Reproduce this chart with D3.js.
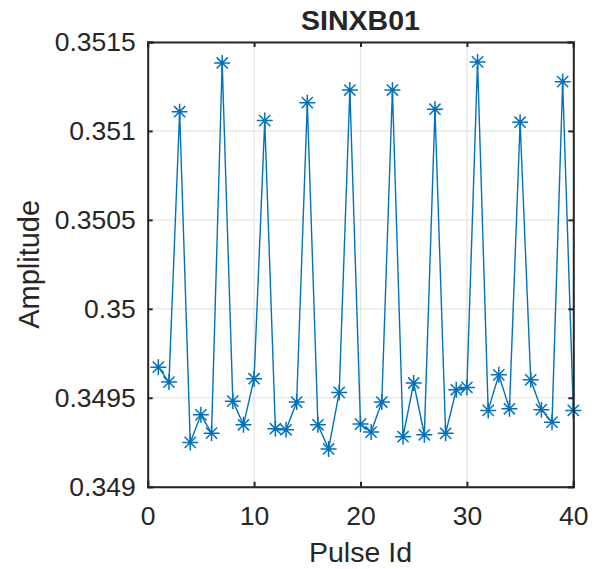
<!DOCTYPE html>
<html>
<head>
<meta charset="utf-8">
<script src="https://cdn.jsdelivr.net/npm/d3@7"></script>
<style>
  html, body { margin: 0; padding: 0; background: #fff; }
  svg { display: block; }
  text { font-family: "Liberation Sans", Arial, Helvetica, sans-serif; fill: #262626; }
</style>
</head>
<body>
<svg id="chart" width="605" height="569"></svg>
<script>
// Pulse identifiers and measured amplitudes for channel SINXB01
const pulseIds = d3.range(1, 41);
const amplitudes = [
  0.349672, 0.349588, 0.351108, 0.349249, 0.349404, 0.349301, 0.351382, 0.349481,
  0.349348, 0.349607, 0.351058, 0.349326, 0.349320, 0.349476, 0.351159, 0.349348,
  0.349212, 0.349530, 0.351230, 0.349352, 0.349307, 0.349476, 0.351230, 0.349281,
  0.349583, 0.349292, 0.351122, 0.349300, 0.349545, 0.349558, 0.351388, 0.349429,
  0.349629, 0.349438, 0.351049, 0.349601, 0.349433, 0.349363, 0.351277, 0.349429
];
const xTicks = [0, 10, 20, 30, 40];
const yTicks = [0.349, 0.3495, 0.35, 0.3505, 0.351, 0.3515];
const yTickLabels = ["0.349", "0.3495", "0.35", "0.3505", "0.351", "0.3515"];
const title = "SINXB01";
const xLabel = "Pulse Id";
const yLabel = "Amplitude";

const svg = d3.select("#chart");
const box = { left: 147.7, right: 573.3, top: 42, bottom: 486.7 };

const x = d3.scaleLinear().domain([0, 40]).range([box.left, box.right]);
const y = d3.scaleLinear().domain([0.349, 0.3515]).range([box.bottom, box.top]);

const axisColor = "#262626";
const gridColor = "#e3e3e3";
const lineColor = "#0072BD";
const tickLen = 5;

// grid
const grid = svg.append("g");
grid.selectAll("line.gx").data(xTicks).join("line")
  .attr("x1", d => x(d)).attr("x2", d => x(d))
  .attr("y1", box.top).attr("y2", box.bottom)
  .attr("stroke", gridColor).attr("stroke-width", 1.2);
grid.selectAll("line.gy").data(yTicks).join("line")
  .attr("x1", box.left).attr("x2", box.right)
  .attr("y1", d => y(d)).attr("y2", d => y(d))
  .attr("stroke", gridColor).attr("stroke-width", 1.2);

// data line
const data = pulseIds.map((p, i) => ({ p, v: amplitudes[i] }));
svg.append("path")
  .datum(data)
  .attr("fill", "none")
  .attr("stroke", lineColor)
  .attr("stroke-width", 1.4)
  .attr("d", d3.line().x(d => x(d.p)).y(d => y(d.v)));

// asterisk markers
const r = 8, rd = 5.6;
const star = `M${-r},0L${r},0M0,${-r}L0,${r}M${-rd},${-rd}L${rd},${rd}M${-rd},${rd}L${rd},${-rd}`;
svg.append("g").selectAll("path").data(data).join("path")
  .attr("transform", d => `translate(${x(d.p)},${y(d.v)})`)
  .attr("d", star)
  .attr("fill", "none")
  .attr("stroke", lineColor)
  .attr("stroke-width", 1.5);

// axes with inward ticks (MATLAB box style)
const xAxisB = d3.axisBottom(x).tickValues(xTicks).tickSize(-tickLen).tickPadding(19).tickFormat(d3.format("d"));
const xAxisT = d3.axisTop(x).tickValues(xTicks).tickSize(-tickLen).tickFormat("");
const yAxisL = d3.axisLeft(y).tickValues(yTicks).tickSize(-tickLen).tickPadding(12)
  .tickFormat((d, i) => yTickLabels[i]);
const yAxisR = d3.axisRight(y).tickValues(yTicks).tickSize(-tickLen).tickFormat("");

function styleAxis(g) {
  g.select(".domain").attr("stroke", axisColor).attr("stroke-width", 2);
  g.selectAll(".tick line").attr("stroke", axisColor).attr("stroke-width", 2);
  g.selectAll(".tick text").attr("fill", axisColor)
    .style("font-family", '"Liberation Sans", Arial, sans-serif')
    .style("font-size", "26.5px");
}

svg.append("g").attr("transform", `translate(0,${box.bottom})`).call(xAxisB).call(styleAxis);
svg.append("g").attr("transform", `translate(0,${box.top})`).call(xAxisT).call(styleAxis);
svg.append("g").attr("transform", `translate(${box.left},0)`).call(yAxisL).call(styleAxis);
svg.append("g").attr("transform", `translate(${box.right},0)`).call(yAxisR).call(styleAxis);

// square off the box corners
svg.selectAll(".domain").attr("stroke-linecap", "square");

// title and axis labels
svg.append("text")
  .attr("x", (box.left + box.right) / 2).attr("y", 30)
  .attr("text-anchor", "middle")
  .style("font-size", "28.5px").style("font-weight", "bold")
  .attr("fill", "#000")
  .text(title);

svg.append("text")
  .attr("x", (box.left + box.right) / 2).attr("y", 562)
  .attr("text-anchor", "middle")
  .style("font-size", "28.5px")
  .text(xLabel);

svg.append("text")
  .attr("transform", `translate(39,${(box.top + box.bottom) / 2}) rotate(-90)`)
  .attr("text-anchor", "middle")
  .style("font-size", "29px")
  .text(yLabel);
</script>
</body>
</html>
